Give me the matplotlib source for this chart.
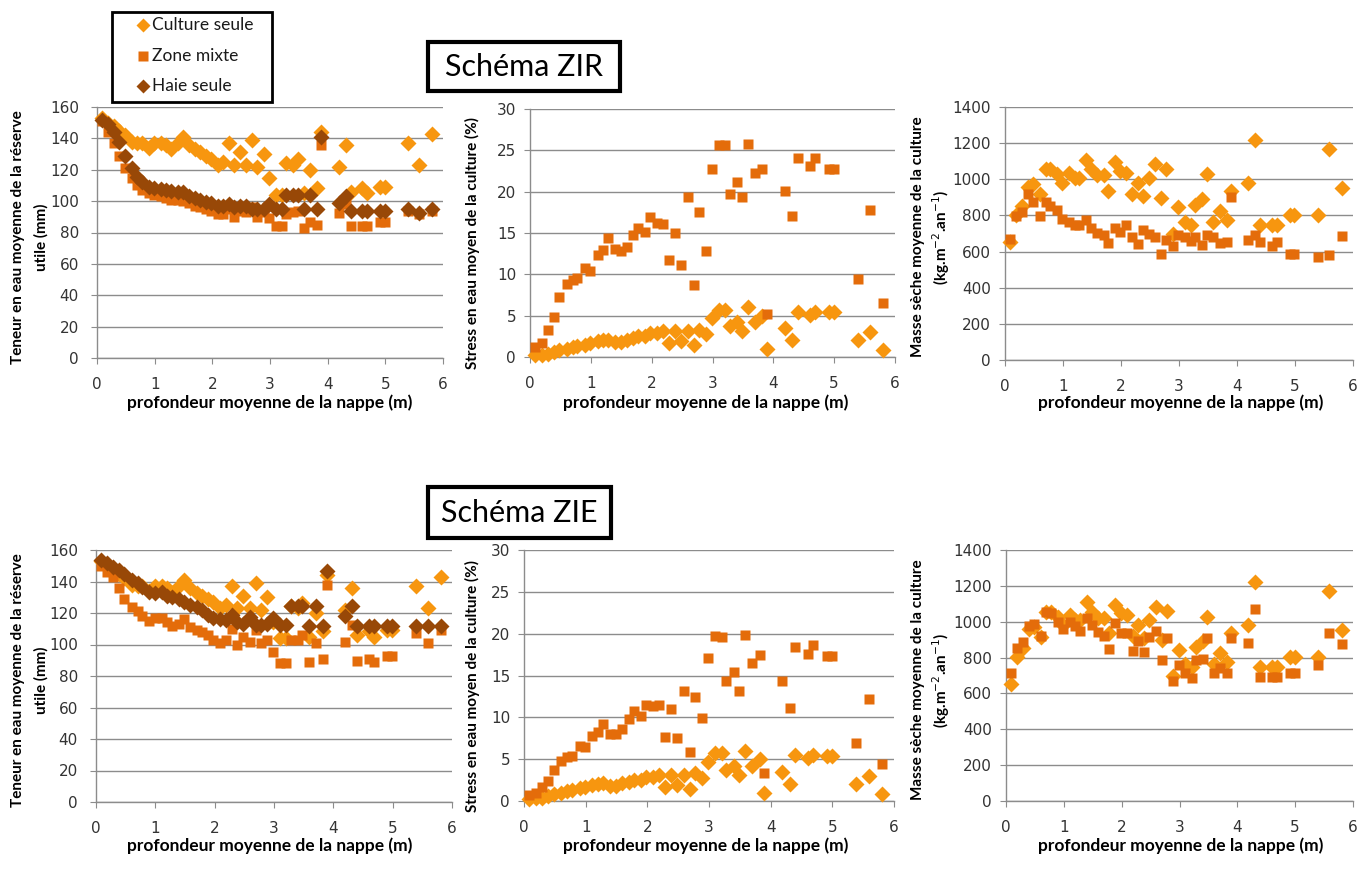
import matplotlib
matplotlib.use('Agg')
import matplotlib.pyplot as plt
import numpy as np
from matplotlib.patches import Rectangle
from matplotlib.lines import Line2D

# ---------------- data ----------------
depth = [0.08, 0.19, 0.29, 0.39, 0.48, 0.6, 0.7, 0.78, 0.9, 0.99, 1.11, 1.2, 1.28, 1.4, 1.49,
         1.59, 1.7, 1.78, 1.89, 1.98, 2.09, 2.19, 2.29, 2.38, 2.48, 2.59, 2.69, 2.78, 2.89, 2.99,
         3.1, 3.21, 3.28, 3.4, 3.48, 3.59, 3.7, 3.82, 3.89, 4.19, 4.31, 4.4, 4.6, 4.69, 4.91,
         4.99, 5.39, 5.59, 5.81]

# Culture seule (same in both schemes)
culture_eau = [153, 150, 148, 145, 142, 138, 137, 137, 134, 137, 137, 136, 133, 137, 141,
               136, 133, 131, 129, 127, 123, 125, 137, 123, 131, 123, 139, 122, 130, 114.5,
               104, 104, 124.5, 123, 126.6, 105, 120, 108.5, 144, 122, 136, 106, 108.5, 105, 109,
               109, 137, 123, 142.6]
culture_stress = [0.2, 0.3, 0.4, 0.6, 0.8, 1.0, 1.2, 1.3, 1.5, 1.7, 1.9, 2.0, 2.1, 1.8, 1.8,
                  2.1, 2.3, 2.5, 2.5, 2.9, 2.9, 3.1, 1.7, 3.1, 1.9, 3.1, 1.4, 3.3, 2.8, 4.7,
                  5.7, 5.7, 3.7, 4.2, 3.1, 6.0, 4.2, 5.0, 1.0, 3.5, 2.0, 5.5, 5.1, 5.5, 5.4,
                  5.4, 2.0, 3.0, 0.8]
culture_masse = [654, 801, 851, 958, 973, 917, 1055, 1055, 1028, 982, 1037, 1009, 1009, 1109, 1055,
                 1022, 1022, 936, 1096, 1046, 1035, 921, 982, 908, 1009, 1083, 899, 1059, 700, 844,
                 764, 746, 857, 890, 1028, 764, 825, 774, 936, 982, 1220, 746, 746, 746, 801,
                 801, 801, 1170, 954]

# Schéma ZIR
zir_mixte_eau = [151, 144, 137, 129, 121, 115, 110, 107, 105, 104, 103, 102, 101, 101, 100,
                 99, 97, 96, 95, 94, 92, 92, 95, 90, 94, 93, 96, 90, 93, 89,
                 84, 84, 92, 93, 94, 83, 87, 84.5, 136, 92.6, 98, 84, 84, 84, 86.6,
                 86.6, 94, 91.5, 94]
zir_haie_eau = [152, 149, 144, 138, 129, 121, 115.5, 112, 109, 108.5, 107.5, 107, 106.5, 106, 105.5,
                103, 102, 101, 99.5, 98.5, 97, 97, 98, 96, 97, 97, 95, 95, 95, 98,
                95, 95, 103.6, 103.6, 103.6, 95, 103.6, 95, 141, 99, 103, 93.6, 93.6, 93.6, 93.6,
                93.6, 94.7, 92.6, 95]
zir_mixte_stress = [1.2, 1.7, 3.3, 4.8, 7.3, 8.8, 9.3, 9.5, 10.8, 10.4, 12.3, 13, 14.4, 13.1, 12.8,
                    13.3, 14.7, 15.6, 15.1, 16.9, 16.2, 16.1, 11.7, 15, 11.1, 19.3, 8.7, 17.5, 12.8, 22.8,
                    25.7, 25.7, 19.7, 21.2, 19.3, 25.8, 22.3, 22.8, 5.2, 20.1, 17.1, 24.1, 23.1, 24.1, 22.8,
                    22.8, 9.4, 17.8, 6.5]
zir_mixte_masse = [667, 796, 820, 917, 875, 798, 875, 851, 829, 783, 764, 746, 746, 774, 728,
                   704, 691, 645, 728, 709, 746, 681, 641, 718, 700, 681, 586, 663, 632, 691,
                   681, 659, 681, 636, 691, 681, 645, 654, 903, 663, 691, 654, 630, 654, 586,
                   586, 571, 580, 685]

# Schéma ZIE
zie_mixte_eau = [150, 146, 143, 136, 129, 124, 121, 118, 115, 117, 117, 114, 112, 113, 116,
                 111, 109, 108, 106, 103, 101, 103, 110, 99.6, 104.9, 101.7, 109, 100.7, 102.8, 95.4,
                 88, 88, 102.8, 102.8, 106, 88.6, 100.7, 90.5, 138, 101.3, 112.3, 89.4, 90.7, 89, 92.8,
                 92.8, 107.6, 100.7, 109]
zie_haie_eau = [153.6, 151.5, 149.4, 147.3, 145, 141, 138.8, 136.7, 133.5, 132.4, 133.5, 131, 130.3, 128.8, 127,
                125, 124, 122, 119, 117, 116, 115.5, 118.7, 114, 112.7, 117.6, 112.3, 112.3, 113, 117,
                112.3, 112.3, 124.4, 124.4, 124.4, 111.7, 124.4, 111.7, 146.6, 118.2, 124.4, 111.7, 111.7, 111.7, 111.7,
                111.7, 111.7, 111.7, 111.7]
zie_mixte_stress = [0.7, 0.9, 1.7, 2.4, 3.7, 4.8, 5.3, 5.4, 6.6, 6.4, 7.8, 8.2, 9.2, 8.0, 8.0,
                    8.6, 9.8, 10.8, 10.1, 11.5, 11.3, 11.5, 7.6, 11.0, 7.5, 13.2, 5.9, 12.4, 9.9, 17.1,
                    19.7, 19.6, 14.3, 15.4, 13.1, 19.8, 16.5, 17.5, 3.4, 14.4, 11.1, 18.4, 17.6, 18.6, 17.3,
                    17.3, 6.9, 12.2, 4.4]
zie_mixte_masse = [712, 851, 885, 978, 985, 922, 1052, 1047, 996, 959, 1000, 978, 948, 1022, 982,
                   941, 922, 846, 991, 935, 935, 837, 892, 833, 917, 948, 786, 911, 671, 758,
                   712, 684, 786, 792, 907, 712, 744, 712, 911, 879, 1071, 693, 693, 693, 712,
                   712, 758, 939, 874]

series_names = ['Culture seule', 'Zone mixte', 'Haie seule']
scheme_titles = ['Schéma ZIR', 'Schéma ZIE']
x_label = 'profondeur moyenne de la nappe (m)'

# ---------------- style ----------------
C_CULT = '#F7960F'
C_MIX = '#E46C0A'
C_HAIE = '#984807'
GRID = '#8c8c8c'
TXT = '#333333'
FONT = 'Lato'

W, H = 1372, 873
fig = plt.figure(figsize=(W / 100, H / 100), dpi=100)


def px_axes(l, r, top, bot):
    return fig.add_axes([l / W, (H - bot) / H, (r - l) / W, (bot - top) / H])


def style(ax, ymax, ystep, ypad):
    ax.set_xlim(0, 6)
    ax.set_ylim(0, ymax)
    ax.set_xticks(range(7))
    ax.set_yticks(np.arange(0, ymax + 1, ystep))
    ax.grid(axis='y', color=GRID, lw=1)
    ax.set_axisbelow(True)
    for s in ['top', 'right']:
        ax.spines[s].set_visible(False)
    for s in ['left', 'bottom']:
        ax.spines[s].set_color(GRID)
        ax.spines[s].set_linewidth(1)
    ax.tick_params(direction='out', length=4, color=GRID, labelsize=11, labelcolor=TXT)
    ax.tick_params(axis='x', pad=10)
    ax.tick_params(axis='y', pad=ypad)


MS_D = 8.5
MS_S = 7.2


def plot_cult(ax, y):
    ax.plot(depth, y, ls='none', marker='D', ms=MS_D, color=C_CULT, mec='none', clip_on=False, zorder=3)


def plot_mix(ax, y):
    ax.plot(depth, y, ls='none', marker='s', ms=MS_S, color=C_MIX, mec='none', clip_on=False, zorder=4)


def plot_haie(ax, y):
    ax.plot(depth, y, ls='none', marker='D', ms=MS_D, color=C_HAIE, mec='none', clip_on=False, zorder=5)


boxes = {
    0: [(97, 443, 107, 358), (530, 895, 109, 357), (1005, 1353, 107, 360)],
    1: [(96, 452, 550, 802), (524, 894, 550, 801), (1006, 1353, 550, 801)],
}
data = {
    0: (zir_mixte_eau, zir_haie_eau, zir_mixte_stress, zir_mixte_masse),
    1: (zie_mixte_eau, zie_haie_eau, zie_mixte_stress, zie_mixte_masse),
}

for row in (0, 1):
    m_eau, h_eau, m_stress, m_masse = data[row]
    b = boxes[row]
    ax1 = px_axes(*b[0])
    style(ax1, 160, 20, 9)
    plot_cult(ax1, culture_eau)
    plot_mix(ax1, m_eau)
    plot_haie(ax1, h_eau)

    ax2 = px_axes(*b[1])
    style(ax2, 30, 5, 6)
    plot_cult(ax2, culture_stress)
    plot_mix(ax2, m_stress)

    ax3 = px_axes(*b[2])
    style(ax3, 1400, 200, 6)
    plot_cult(ax3, culture_masse)
    plot_mix(ax3, m_masse)

    # x labels
    yl = 403 if row == 0 else 846
    for cx in (270, 706, 1181):
        fig.text(cx / W, (H - yl) / H, x_label, ha='center', va='center',
                 fontsize=12.5, fontweight='bold', family=FONT, color='black')

    # y labels
    cy = 237 if row == 0 else 680
    fig.text(18 / W, (H - cy) / H, 'Teneur en eau moyenne de la réserve', rotation=90,
             ha='center', va='center', fontsize=11, fontweight='bold', family=FONT)
    fig.text(41 / W, (H - cy) / H, 'utile (mm)', rotation=90,
             ha='center', va='center', fontsize=11, fontweight='bold', family=FONT)
    fig.text(472 / W, (H - (cy + 6)) / H, 'Stress en eau moyen de la culture (%)', rotation=90,
             ha='center', va='center', fontsize=11, fontweight='bold', family=FONT)
    fig.text(918 / W, (H - cy) / H, 'Masse sèche moyenne de la culture', rotation=90,
             ha='center', va='center', fontsize=11, fontweight='bold', family=FONT)
    fig.text(941 / W, (H - cy) / H, r'(kg.m$^{-2}$.an$^{-1}$)', rotation=90,
             ha='center', va='center', fontsize=11, fontweight='bold', family=FONT)

# title boxes
for (l, r, t, bt), title in zip([(428, 620, 42, 91), (428, 611, 487, 538)], scheme_titles):
    fig.patches.append(Rectangle((l / W, (H - bt) / H), (r - l) / W, (bt - t) / H,
                                 transform=fig.transFigure, fill=True, facecolor='white',
                                 edgecolor='black', lw=3, zorder=10))
    fig.text((l + r) / 2 / W, (H - (t + bt) / 2) / H, title, ha='center', va='center',
             fontsize=22, family=FONT, color='black', zorder=11)

# legend box
fig.patches.append(Rectangle((112 / W, (H - 102) / H), 160 / W, 90 / H,
                             transform=fig.transFigure, fill=True, facecolor='white',
                             edgecolor='black', lw=2, zorder=10))
leg_y = [25, 56, 86]
leg_style = [('D', C_CULT, 7), ('s', C_MIX, 6.5), ('D', C_HAIE, 7)]
for name, ly, (mk, col, ms) in zip(series_names, leg_y, leg_style):
    fig.add_artist(Line2D([143 / W], [(H - ly) / H], transform=fig.transFigure, marker=mk,
                          ms=ms, color=col, mec='none', ls='none', zorder=11))
    fig.text(152 / W, (H - ly) / H, name, ha='left', va='center', fontsize=12.5,
             family=FONT, color='#1a1a1a', zorder=11)

fig.savefig('out.png', dpi=100, facecolor='white')
